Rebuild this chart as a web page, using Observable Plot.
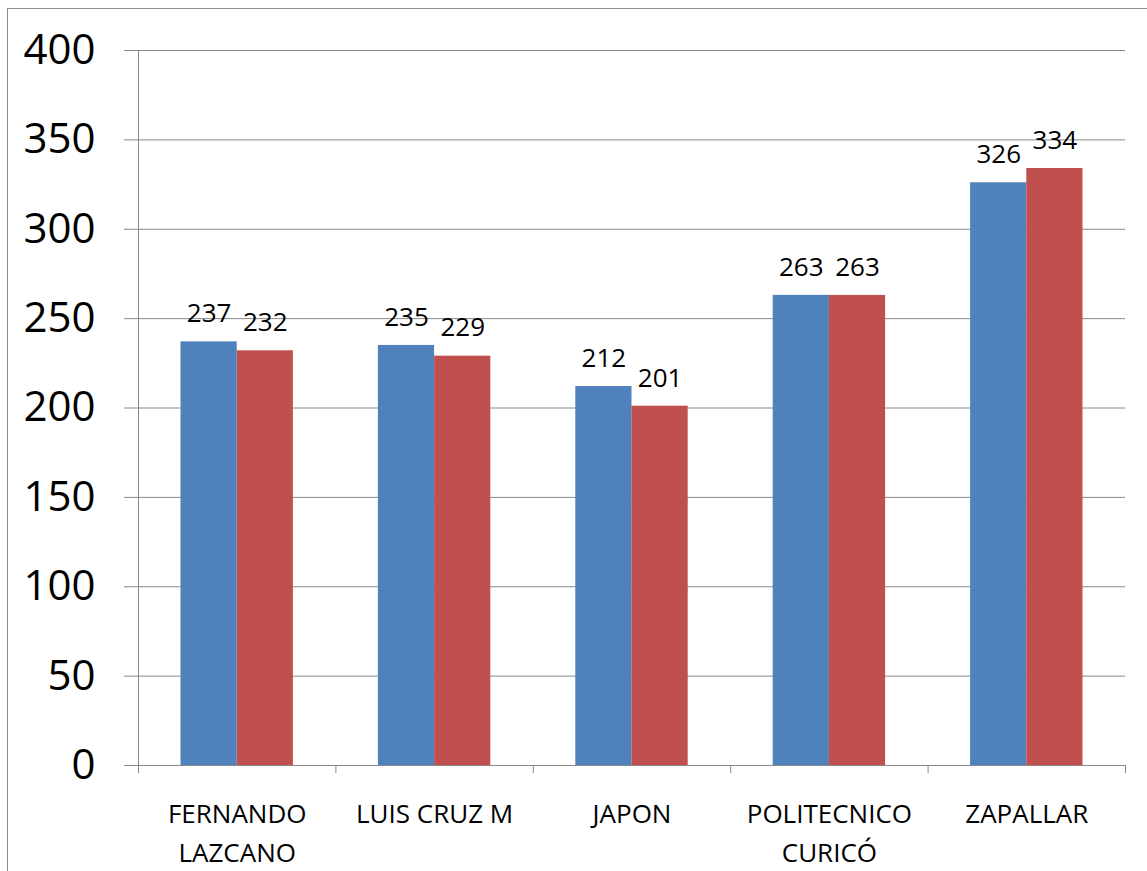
<!DOCTYPE html>
<html>
<head>
<meta charset="utf-8">
<script src="https://cdn.jsdelivr.net/npm/d3@7"></script>
<script src="https://cdn.jsdelivr.net/npm/@observablehq/plot@0.6"></script>
<style>
  html, body { margin: 0; padding: 0; background: #fff; }
  #wrap { position: relative; width: 1147px; height: 871px; overflow: hidden; }
  #border { position: absolute; left: 7px; top: 8px; width: 1160px; height: 900px;
            border-left: 1px solid #8c8c8c; border-top: 1px solid #8c8c8c; }
  #chart svg { position: absolute; left: 0; top: 0; }
</style>
</head>
<body>
<div id="wrap"><div id="border"></div><div id="chart"></div></div>
<script>
const categories = ["FERNANDO\nLAZCANO", "LUIS CRUZ M", "JAPON", "POLITECNICO\nCURICÓ", "ZAPALLAR"];
const series1 = [237, 235, 212, 263, 326];
const series2 = [232, 229, 201, 263, 334];
const yTicks = [0, 50, 100, 150, 200, 250, 300, 350, 400];

const rows = categories.map((c, i) => ({category: c, s1: series1[i], s2: series2[i]}));

const W = 1147, H = 871, mL = 138, mR = 22, mT = 50, mB = 106;
const step = (W - mL - mR) / categories.length;
const half = step / 2;
const outer = 42.5;
const labelShift = (half - outer) / 2;
const blue = "#4F81BD", red = "#C0504D", gray = "#888888";

const chart = Plot.plot({
  width: W,
  height: H,
  marginLeft: mL,
  marginRight: mR,
  marginTop: mT,
  marginBottom: mB,
  style: {fontFamily: "'Open Sans', sans-serif", color: "black", background: "transparent"},
  x: {domain: categories, padding: 0, round: false, label: null},
  y: {domain: [0, 400], label: null},
  marks: [
    Plot.gridY(yTicks, {stroke: gray, strokeOpacity: 1, strokeWidth: 1}),
    Plot.axisY(yTicks, {tickSize: 14, tickPadding: 29, fontSize: 42, stroke: gray, fill: "black", label: null, tickFormat: d => String(d)}),
    Plot.ruleX([categories[0]], {dx: -half, stroke: gray, strokeWidth: 1}),
    Plot.barY(rows, {x: "category", y: "s1", fill: blue, insetLeft: outer, insetRight: half}),
    Plot.barY(rows, {x: "category", y: "s2", fill: red, insetLeft: half, insetRight: outer}),
    Plot.ruleY([0], {stroke: gray, strokeWidth: 1}),
    Plot.axisX(categories, {tickSize: 8, dx: -half, stroke: gray, fill: "none", label: null, tickFormat: () => ""}),
    Plot.axisX([categories[categories.length - 1]], {tickSize: 8, dx: half, stroke: gray, fill: "none", label: null, tickFormat: () => ""}),
    Plot.axisX(categories, {tickSize: 0, tickPadding: 30, fontSize: 26, lineHeight: 1.5, fill: "black", stroke: "none", label: null}),
    Plot.text(rows, {x: "category", y: "s1", text: d => String(d.s1), dx: -labelShift, dy: -28, fontSize: 26, fill: "black", lineAnchor: "middle"}),
    Plot.text(rows, {x: "category", y: "s2", text: d => String(d.s2), dx: labelShift, dy: -28, fontSize: 26, fill: "black", lineAnchor: "middle"})
  ]
});
document.getElementById("chart").appendChild(chart);
</script>
</body>
</html>
